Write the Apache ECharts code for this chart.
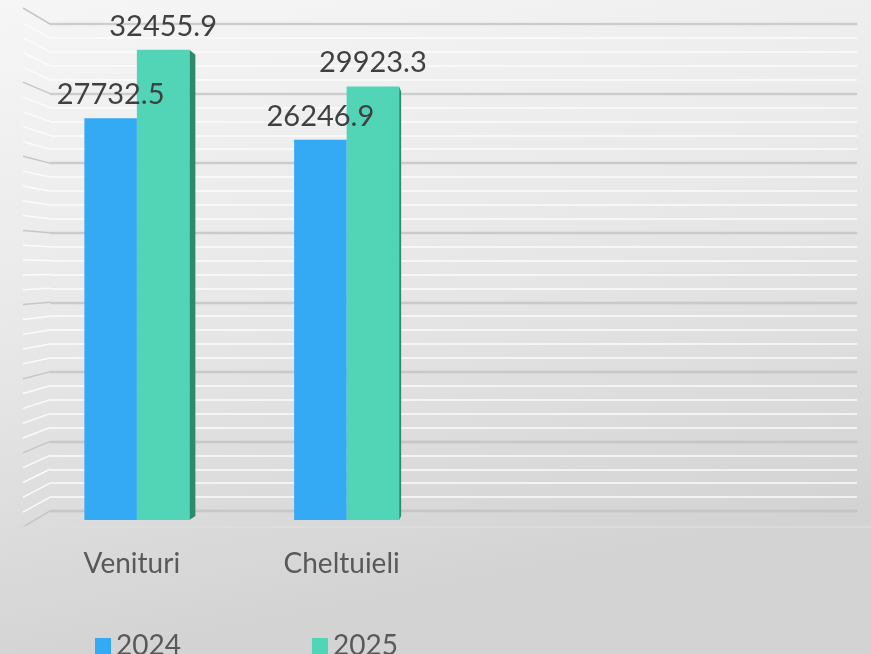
<!DOCTYPE html>
<html><head><meta charset="utf-8">
<script src="https://cdn.jsdelivr.net/npm/echarts@6/dist/echarts.min.js"></script>
<style>html,body{margin:0;padding:0;background:#e6e6e6}#c{width:871px;height:654px}</style>
</head><body><div id="c"></div>
<script>
// ---- data ----
const categories = ['Venituri', 'Cheltuieli'];
const emptySlots = ['', ''];
const seriesNames = ['2024', '2025'];
const values2024 = [27732.5, 26246.9];
const values2025 = [32455.9, 29923.3];
const axisMax = 35000;
const majorStep = 5000;
const minorStep = 1000;

// ---- styling ----
const FONT = 'Lato';
const BAR_W = 52.5;
const sideDepth = [6, 2];
const MAJOR = '#c6c6c6';
const MINOR = '#fbfbfb';

const chart = echarts.init(document.getElementById('c'), null, {renderer: 'canvas'});

const option = {
  animation: false,
  backgroundColor: {
    type: 'linear', x: 0, y: 0, x2: 0.15, y2: 1,
    colorStops: [{offset: 0, color: '#f6f6f6'}, {offset: 0.5, color: '#e8e8e8'}, {offset: 1, color: '#d3d3d3'}]
  },
  textStyle: {fontFamily: FONT},
  grid: [
    {left: 50, right: 14, top: 24, bottom: 143},
    {left: 32, width: 844, top: 13, bottom: 134},
    {left: 23, width: 10, top: 8, bottom: 127}
  ],
  xAxis: [
    {type: 'value', gridIndex: 0, min: 0, max: 1, show: false},
    {type: 'category', gridIndex: 1, data: categories.concat(emptySlots),
      axisLine: {show: false}, axisTick: {show: false},
      axisLabel: {fontSize: 28, color: '#595959', fontFamily: FONT, margin: 30, padding: [0, 10, 0, 0]}},
    {type: 'value', gridIndex: 2, min: 0, max: 1, show: false}
  ],
  yAxis: [
    {type: 'value', gridIndex: 0, min: 0, max: axisMax, interval: majorStep,
      axisLine: {show: false}, axisTick: {show: false}, axisLabel: {show: false},
      splitLine: {show: true, lineStyle: {color: MAJOR, width: 1.5, shadowBlur: 2, shadowColor: 'rgba(0,0,0,0.15)'}},
      minorTick: {show: false, splitNumber: majorStep / minorStep},
      minorSplitLine: {show: true, lineStyle: {color: MINOR, width: 1.5}}},
    {type: 'value', gridIndex: 1, min: 0, max: axisMax, show: false, splitLine: {show: false}},
    {type: 'value', gridIndex: 2, min: 0, max: axisMax, show: false, splitLine: {show: false}}
  ],
  legend: {
    data: seriesNames, left: 90, top: 627, icon: 'rect', itemWidth: 16, itemHeight: 16, itemGap: 131,
    textStyle: {fontSize: 28, color: '#595959', fontFamily: FONT}
  },
  series: [
    {name: seriesNames[0], type: 'bar', xAxisIndex: 1, yAxisIndex: 1, barWidth: BAR_W, barGap: '0%',
      itemStyle: {color: '#34a9f4'}, data: values2024, z: 3,
      label: {show: true, position: 'top', distance: 9, fontSize: 29, color: '#404040', fontFamily: FONT}},
    {name: seriesNames[1], type: 'bar', xAxisIndex: 1, yAxisIndex: 1, barWidth: BAR_W, barGap: '0%',
      itemStyle: {color: '#52d5b7'}, z: 2, data: values2025,
      label: {show: true, position: 'top', distance: 9, fontSize: 29, color: '#404040', fontFamily: FONT}},
    {name: 'side2025', type: 'custom', xAxisIndex: 1, yAxisIndex: 1, z: 1, silent: true,
      data: values2025.map((v, i) => [i, v]),
      renderItem: function (params, api) {
        const i = api.value(0);
        const top = api.coord([i, api.value(1)]);
        const base = api.coord([i, 0]);
        const x0 = top[0] + BAR_W;
        const d = sideDepth[i];
        return {type: 'polygon',
          shape: {points: [[x0, top[1]], [x0 + d, top[1] + 5], [x0 + d, base[1] - 4], [x0, base[1]]]},
          style: {fill: '#2f8a6c'}};
      }}
  ]
};
chart.setOption(option);

// side wall and floor edge lines derived from the axes
const graphics = [];
for (let v = 0; v <= axisMax; v += minorStep) {
  const back = chart.convertToPixel({xAxisIndex: 0, yAxisIndex: 0}, [0, v]);
  const front = chart.convertToPixel({xAxisIndex: 2, yAxisIndex: 2}, [0, v]);
  const major = v % majorStep === 0;
  graphics.push({type: 'line', silent: true, z: 0,
    shape: {x1: front[0], y1: front[1], x2: back[0], y2: back[1]},
    style: {stroke: major ? MAJOR : MINOR, lineWidth: 1.5}});
}
const f0 = chart.convertToPixel({xAxisIndex: 2, yAxisIndex: 2}, [0, 0]);
const b0 = chart.convertToPixel({xAxisIndex: 0, yAxisIndex: 0}, [1, 0]);
graphics.push({type: 'line', silent: true, z: 0,
  shape: {x1: f0[0], y1: f0[1], x2: b0[0] + 14, y2: f0[1]},
  style: {stroke: '#dedede', lineWidth: 1.5}});
chart.setOption({graphic: graphics});
</script>
</body></html>
